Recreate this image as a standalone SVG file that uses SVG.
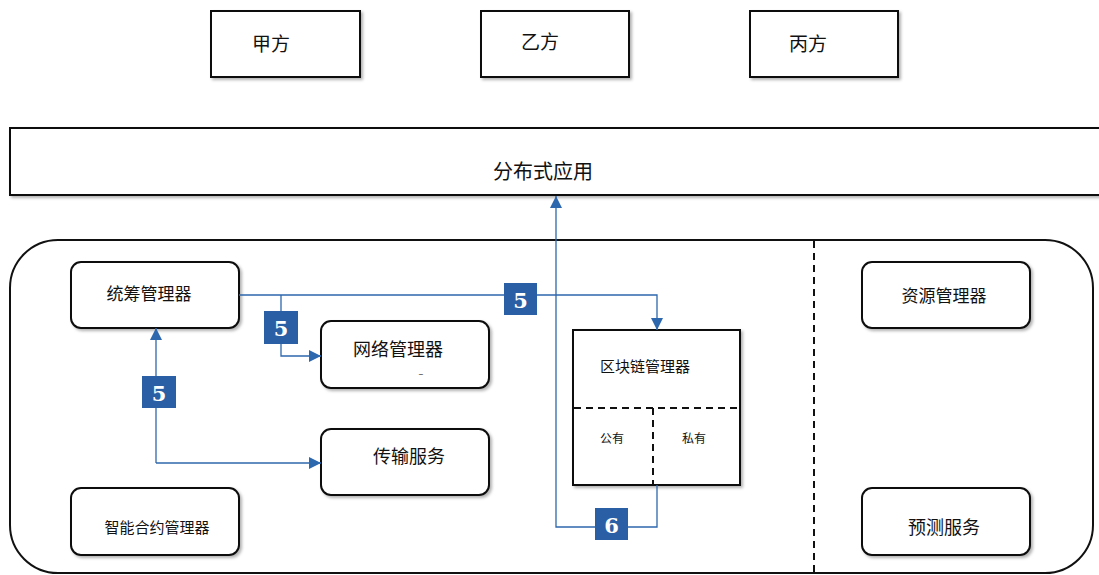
<svg xmlns="http://www.w3.org/2000/svg" width="1099" height="575" viewBox="0 0 1099 575">
<defs>
<filter id="sh" x="-10%" y="-10%" width="130%" height="130%">
<feDropShadow dx="2" dy="2" stdDeviation="1.5" flood-color="#000" flood-opacity="0.3"/>
</filter>
<marker id="ah" viewBox="0 0 12 12" refX="12" refY="6" markerWidth="12" markerHeight="12" markerUnits="userSpaceOnUse" orient="auto">
<path d="M0,0 L12,6 L0,12 z" fill="#2d67ad"/>
</marker>
</defs>
<style>
.box{fill:#fff;stroke:#111;stroke-width:2;filter:url(#sh)}
.t{font-family:"Noto Sans CJK SC","Noto Sans",sans-serif;fill:#111;text-anchor:middle;dominant-baseline:central}
.ln{fill:none;stroke:#2d67ad;stroke-width:1.3}
.lb{fill:#2a5fa5}
.lt{font-family:"DejaVu Serif",serif;font-weight:bold;font-size:21px;fill:#fff;text-anchor:middle;dominant-baseline:central}
.dash{stroke:#111;stroke-width:2;stroke-dasharray:7,5;fill:none}
</style>
<rect width="1099" height="575" fill="#fff"/>
<g id="container">
<rect x="10" y="240" width="1083" height="333" rx="48" ry="48" fill="#fff" stroke="#111" stroke-width="2"/>
<line class="dash" x1="814" y1="241" x2="814" y2="575"/>
</g>
<g id="jiafang"><rect class="box" x="211" y="11" width="149" height="66"/><text class="t" x="271" y="42" font-size="19">甲方</text></g>
<g id="yifang"><rect class="box" x="481" y="11" width="148" height="66"/><text class="t" x="540" y="40" font-size="19">乙方</text></g>
<g id="bingfang"><rect class="box" x="750" y="11" width="148" height="66"/><text class="t" x="808" y="42" font-size="19">丙方</text></g>
<g id="app"><rect class="box" x="10" y="128" width="1095" height="67"/><text class="t" x="543" y="170" font-size="20">分布式应用</text></g>
<g id="tongchou"><rect class="box" x="71" y="262" width="168" height="66" rx="10"/><text class="t" x="149" y="292" font-size="17">统筹管理器</text></g>
<g id="wangluo"><rect class="box" x="321" y="321" width="168" height="67" rx="10"/><text class="t" x="398" y="348" font-size="18">网络管理器</text><text class="t" x="421" y="373" font-size="9" fill="#555">–</text></g>
<g id="chuanshu"><rect class="box" x="321" y="429" width="168" height="66" rx="10"/><text class="t" x="409" y="455" font-size="18">传输服务</text></g>
<g id="zhineng"><rect class="box" x="71" y="488" width="168" height="67" rx="10"/><text class="t" x="157" y="526" font-size="15">智能合约管理器</text></g>
<g id="ziyuan"><rect class="box" x="862" y="262" width="168" height="66" rx="10"/><text class="t" x="944" y="294" font-size="17">资源管理器</text></g>
<g id="yuce"><rect class="box" x="862" y="488" width="168" height="67" rx="10"/><text class="t" x="944" y="526" font-size="18">预测服务</text></g>
<g id="qukuailian">
<rect class="box" x="573" y="330" width="167" height="155"/>
<text class="t" x="645" y="365" font-size="15">区块链管理器</text>
<line class="dash" x1="574" y1="408" x2="739" y2="408" stroke-dasharray="6,4"/>
<line class="dash" x1="653" y1="408" x2="653" y2="484" stroke-dasharray="6,4"/>
<text class="t" x="612" y="437" font-size="12">公有</text>
<text class="t" x="694" y="437" font-size="12">私有</text>
</g>
<g id="connectors">
<path class="ln" d="M239,295 H657 V330" marker-end="url(#ah)"/>
<path class="ln" d="M281,295 V356 H321" marker-end="url(#ah)"/>
<path class="ln" d="M156,463 V328" marker-end="url(#ah)"/>
<path class="ln" d="M156,463 H321" marker-end="url(#ah)"/>
<path class="ln" d="M657,485 V527 H556 V196" marker-end="url(#ah)"/>
<rect class="lb" x="264" y="311" width="34" height="33"/><text class="lt" x="281" y="328">5</text>
<rect class="lb" x="504" y="283" width="33" height="32"/><text class="lt" x="520.5" y="300">5</text>
<rect class="lb" x="142" y="376" width="34" height="32"/><text class="lt" x="159" y="393">5</text>
<rect class="lb" x="595" y="508" width="33" height="32"/><text class="lt" x="611.5" y="525">6</text>
</g>
</svg>
